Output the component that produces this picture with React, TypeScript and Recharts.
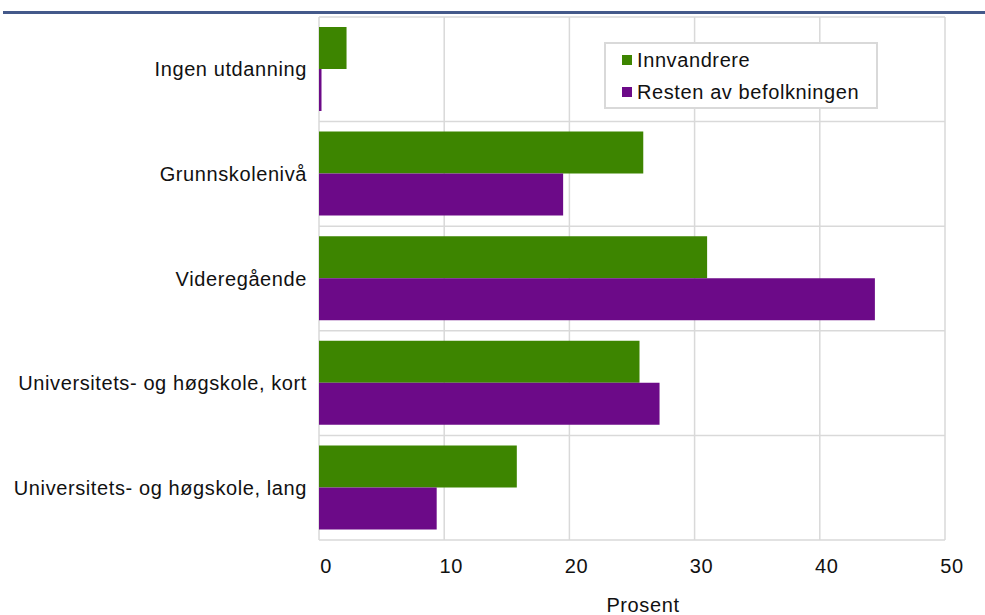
import React from "react";
import {
  BarChart,
  Bar,
  XAxis,
  YAxis,
  CartesianGrid,
  Label,
} from "recharts";

const categories = [
  "Ingen utdanning",
  "Grunnskolenivå",
  "Videregående",
  "Universitets- og høgskole, kort",
  "Universitets- og høgskole, lang",
];
const innvandrere = [2.2, 25.9, 31.0, 25.6, 15.8];
const resten = [0.2, 19.5, 44.4, 27.2, 9.4];
const xTicks = [0, 10, 20, 30, 40, 50];
const seriesNames = ["Innvandrere", "Resten av befolkningen"];

const GREEN = "#3d8500";
const PURPLE = "#6c0a88";
const FONT = "'Liberation Sans', Arial, sans-serif";
const FS = 20;
const LS = 0.6;

const data = categories.map((c, i) => ({
  name: c,
  a: innvandrere[i],
  b: resten[i],
}));

const tickStyle = {
  fill: "#111",
  fontSize: FS,
  fontFamily: FONT,
  letterSpacing: LS,
};

const LegendBox = () => (
  <div
    style={{
      position: "absolute",
      left: 604,
      top: 42,
      width: 270,
      height: 63,
      border: "2px solid #d9d9d9",
      background: "#fff",
      fontFamily: FONT,
      fontSize: FS,
      letterSpacing: LS,
      color: "#111",
    }}
  >
    {[GREEN, PURPLE].map((c, i) => (
      <div
        key={i}
        style={{
          position: "absolute",
          left: 16,
          top: 5 + i * 32,
          display: "flex",
          alignItems: "center",
          lineHeight: "22px",
          whiteSpace: "nowrap",
        }}
      >
        <span
          style={{
            display: "inline-block",
            width: 10,
            height: 10,
            background: c,
            marginRight: 5,
          }}
        />
        {seriesNames[i]}
      </div>
    ))}
  </div>
);

export default function App() {
  return (
    <div
      style={{
        position: "fixed",
        left: 0,
        top: 0,
        width: 985,
        height: 615,
        overflow: "hidden",
        background: "#fff",
        fontFamily: FONT,
      }}
    >
      <div
        style={{
          position: "absolute",
          left: 145,
          top: -15,
          fontWeight: "bold",
          fontSize: 17,
          lineHeight: "17px",
          color: "#111",
          whiteSpace: "nowrap",
        }}
      >
        4. kvartal 2012
      </div>
      <div
        style={{
          position: "absolute",
          left: 3,
          top: 11,
          width: 982,
          height: 3,
          background: "#44598a",
        }}
      />
      <div style={{ position: "absolute", left: 0, top: 0 }}>
        <BarChart
          width={985}
          height={615}
          data={data}
          layout="vertical"
          margin={{ top: 17, right: 40, bottom: 0, left: 0 }}
          barGap={0}
          barSize={42}
        >
          <CartesianGrid
            stroke="#d9d9d9"
            strokeWidth={1.5}
            horizontalCoordinatesGenerator={({ offset }: any) =>
              [0, 1, 2, 3, 4, 5].map(
                (i) => offset.top + (i * offset.height) / 5
              )
            }
          />
          <XAxis
            type="number"
            domain={[0, 50]}
            ticks={xTicks}
            height={75}
            axisLine={false}
            tickLine={false}
            tickSize={0}
            tickMargin={19}
            dx={7}
            tick={tickStyle}
            interval={0}
          >
            <Label
              value="Prosent"
              position="insideBottom"
              offset={3}
              dx={11}
              style={tickStyle}
            />
          </XAxis>
          <YAxis
            type="category"
            dataKey="name"
            width={319}
            axisLine={false}
            tickLine={false}
            tickSize={0}
            tickMargin={12}
            interval={0}
            tick={tickStyle}
          />
          <Bar
            dataKey="a"
            name={seriesNames[0]}
            fill={GREEN}
            isAnimationActive={false}
          />
          <Bar
            dataKey="b"
            name={seriesNames[1]}
            fill={PURPLE}
            isAnimationActive={false}
          />
        </BarChart>
      </div>
      <LegendBox />
    </div>
  );
}
